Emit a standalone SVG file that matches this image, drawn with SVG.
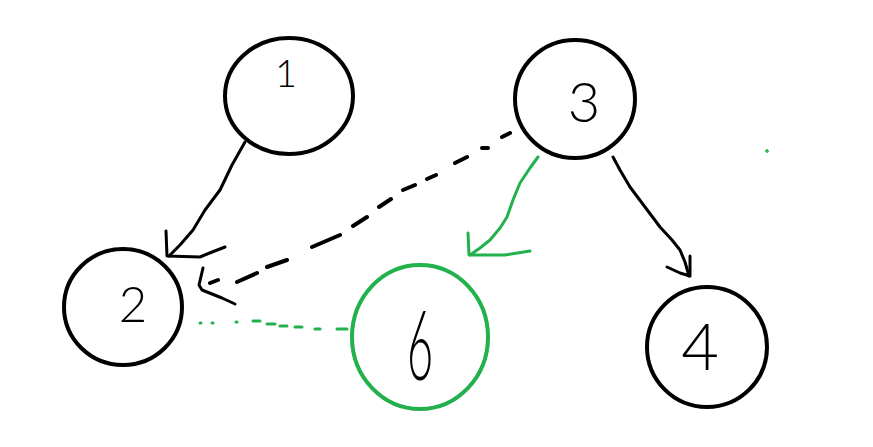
<svg xmlns="http://www.w3.org/2000/svg" width="873" height="447" viewBox="0 0 873 447">
<style>
.bg{fill:#ffffff}
.node{fill:none;stroke:#000000;stroke-width:4}
.node.g{stroke:#22b14c}
.lbl{font-family:"Lato","Liberation Sans",Arial,sans-serif;font-weight:300;fill:#000000;text-anchor:middle}
.edge{fill:none;stroke:#000000;stroke-width:3;stroke-linecap:round;stroke-linejoin:round}
.edge.d{stroke-width:4}
.edge.g{stroke:#22b14c}
</style>
<rect class="bg" x="0" y="0" width="873" height="447"/>
<g id="connectors">
  <g id="e1-2">
    <path class="edge" d="M245,142 L232,165 L220,190 L205,210 L193,230 L180,245 L169,256"/>
    <path class="edge" d="M166,231 L167,256 L200,257 Q212,252 225,247"/>
  </g>
  <g id="e3-2">
    <path class="edge d" d="M502,137 L510,133 M482,148 L488,148 M455,163 L467,157 M427,179 L436,175 M403,190 L415,185 M379,207 L391,199 M353,226 L367,217 M312,247 L340,235 M267,267 L287,260 M237,282 L257,273 M210,283 L218,280"/>
    <path class="edge" d="M203,268 L199,285 L202,290 L222,298 L235,304"/>
  </g>
  <g id="e3-6">
    <path class="edge g" d="M538,157 L530,168 L520,183 L513,200 L507,217 L500,228 L490,240 L480,248 L470,255"/>
    <path class="edge g" d="M468,233 L469,255 L505,255 L530,251"/>
  </g>
  <g id="e3-4">
    <path class="edge" d="M613,157 L620,170 L630,187 L645,207 L660,227 L672,240 L680,250 L685,262 L689,276"/>
    <path class="edge" d="M690,256 L690,276 L680,273 L667,267"/>
  </g>
  <g id="e2-6">
    <path class="edge g" d="M200,323 L201,323 M212,323 L213,323 M236,322 L237,322 M253,321 L260,321 M267,324 L275,324 M280,326 L287,326 M295,327 L302,327 M315,329 L320,329 M337,329 L347,329"/>
  </g>
</g>
<g id="node1">
  <ellipse class="node" cx="289" cy="96" rx="64" ry="58"/>
  <text class="lbl" x="286" y="87" font-size="38">1</text>
</g>
<g id="node3">
  <ellipse class="node" cx="575" cy="99" rx="60" ry="59"/>
  <text class="lbl" x="584" y="122" font-size="56">3</text>
</g>
<g id="node2">
  <ellipse class="node" cx="123" cy="307" rx="59" ry="58"/>
  <text class="lbl" x="133" y="322" font-size="49">2</text>
</g>
<g id="node6">
  <ellipse class="node g" cx="420" cy="337" rx="68" ry="72"/>
  <text class="lbl" transform="translate(420,380) scale(0.6,1.3)" x="0" y="0" font-size="75">6</text>
</g>
<g id="node4">
  <ellipse class="node" cx="707" cy="347" rx="60" ry="60"/>
  <text class="lbl" x="700" y="370" font-size="65">4</text>
</g>
<path d="M767,149 L767,153 M765,151 L769,151" stroke="#22b14c" stroke-width="1.5" fill="none"/>
</svg>
